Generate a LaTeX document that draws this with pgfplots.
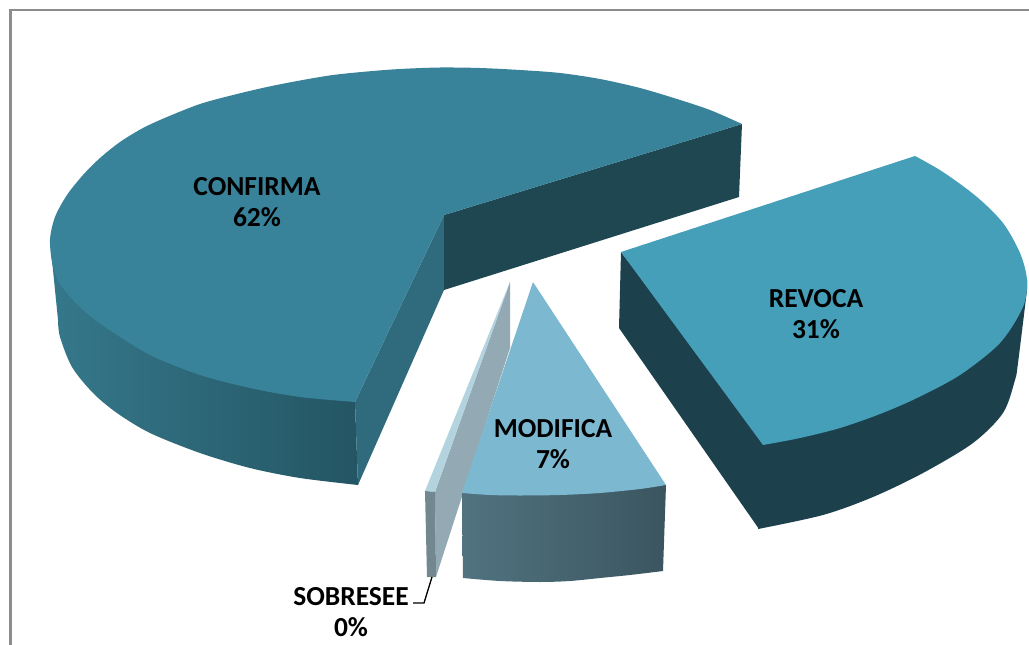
\documentclass[border=0pt]{standalone}
\usepackage{pgfplots}
\pgfplotsset{compat=1.18}
\usepackage{fontspec}
\setmainfont{Carlito}
\definecolor{ctop}{HTML}{38839A}
\definecolor{cinner}{HTML}{2F6B7C}
\definecolor{cback}{HTML}{1F4752}
\definecolor{cs1}{HTML}{35788B}
\definecolor{cs2}{HTML}{2E6A7C}
\definecolor{cs3}{HTML}{245563}
\definecolor{rtop}{HTML}{459FB9}
\definecolor{rside}{HTML}{1C414D}
\definecolor{mtop}{HTML}{7CB8CF}
\definecolor{ms1}{HTML}{50737F}
\definecolor{ms2}{HTML}{3B5560}
\definecolor{stop}{HTML}{B3D3DF}
\definecolor{sgrey}{HTML}{93AAB5}
\definecolor{sfront}{HTML}{72878F}
\begin{document}
\begin{tikzpicture}
\begin{axis}[hide axis,scale only axis,width=1029pt,height=645pt,
  xmin=0,xmax=1029,ymin=0,ymax=645,y dir=reverse]
\addplot[draw=none,fill=white] coordinates {(0,0)(1029,0)(1029,645)(0,645)} -- cycle;
% frame
\addplot[draw=black!45,line width=2.4pt] coordinates {(10.5,645)(10.5,10)(1029,10)};
% CONFIRMA sides
\addplot[draw=none,smooth,left color=cs1,middle color=cs2,right color=cs3] coordinates {(58,320)(60,337)(72,367)(93,393)(117,413)(150,433)(200,453)(250,468)(300,478)(358,485)} -- (axis cs:355,402) -- (axis cs:50,240) -- cycle;
\addplot[draw=none,fill=cinner] coordinates {(355,402)(444,215)(444,290)(358,485)} -- cycle;
\addplot[draw=none,fill=cback] coordinates {(444,215)(742,124)(739,197)(444,290)} -- cycle;
% CONFIRMA top
\addplot[draw=none,smooth,fill=ctop] coordinates {(742,124)(710,110)(677,99)(640,88)(600,79)(560,73)(520,70)(480,68)(440,67.5)(400,69)(367,71.5)(333,75)(300,80.5)(267,87)(233,95)(200,104)(167,117)(143,128)(120,142)(100,158)(83,175)(67,195)(55,217)(50,240)(53,267)(62,287)(83,310)(108,329)(150,355)(200,375)(250,388)(300,397)(355,402)} -- (axis cs:444,215) -- cycle;
% REVOCA
\addplot[draw=none,fill=rside] coordinates {(621,252)(768,445)(759,529)(619,328)} -- cycle;
\addplot[draw=none,smooth,fill=rside] coordinates {(1027,290)(1018,363)(1015,380)(1003,413)(973,443)(923,473)(873,497)(823,515)(758,529)} -- (axis cs:763,445) -- (axis cs:1027,280) -- cycle;
\addplot[draw=none,smooth,fill=rtop] coordinates {(915,156)(943,172)(977,197)(1003,223)(1020,253)(1027,280)(1023,307)(1000,343)(960,375)(917,398)(880,414)(840,428)(800,438)(763,445)} -- (axis cs:621,252) -- cycle;
% SOBRESEE
\addplot[draw=none,fill=sgrey] coordinates {(510,282)(510,348)(436,577)(435,492)} -- cycle;
\addplot[draw=none,fill=stop] coordinates {(510,282)(435,492)(425,491)} -- cycle;
\addplot[draw=none,fill=sfront] coordinates {(425,491)(435,492)(436,577)(427,577)} -- cycle;
% MODIFICA
\addplot[draw=none,smooth,left color=ms1,right color=ms2] coordinates {(463,578)(500,581)(540,582)(570,581)(600,578)(630,575)(663,571)} -- (axis cs:666,485) -- (axis cs:462,493) -- cycle;
\addplot[draw=none,smooth,fill=mtop] coordinates {(666,485)(640,489)(600,493)(560,495)(520,495.5)(490,495)(462,493)} -- (axis cs:533,282) -- cycle;
% leader
\addplot[draw=black,line width=1.3pt] coordinates {(432,577)(424,603)(413,603)};
\node[align=center,font=\fontsize{27.5}{31}\selectfont\bfseries] at (axis cs:257,202) {CONFIRMA\\62\%};
\node[align=center,font=\fontsize{27.5}{31}\selectfont\bfseries] at (axis cs:816,314) {REVOCA\\31\%};
\node[align=center,font=\fontsize{27.5}{31}\selectfont\bfseries] at (axis cs:553,444) {MODIFICA\\7\%};
\node[align=center,font=\fontsize{27.5}{31}\selectfont\bfseries] at (axis cs:351,612) {SOBRESEE\\0\%};
\end{axis}
\end{tikzpicture}
\end{document}
